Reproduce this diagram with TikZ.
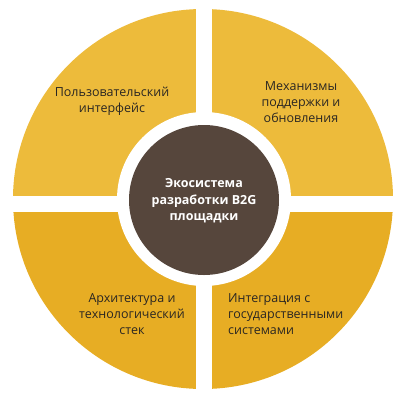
\documentclass[tikz,border=0pt]{standalone}
\usepackage{fontspec}
\setmainfont{Open Sans}
\definecolor{qtop}{HTML}{EDBB3B}
\definecolor{qbot}{HTML}{E7AD24}
\definecolor{hubc}{HTML}{56463C}
\definecolor{txtc}{HTML}{2A2622}
\begin{document}
\begin{tikzpicture}[x=1pt,y=-1pt,
  lbl/.style={font=\fontsize{12.5}{16}\selectfont, text=txtc, inner sep=0pt},
  hubtext/.style={font=\fontsize{12.5}{16.5}\selectfont\bfseries, text=white, align=center, inner sep=0pt},
  hubdisk/.style={circle, fill=hubc, minimum size=150pt, inner sep=0pt}]
\useasboundingbox (0,0) rectangle (409,400);
\begin{scope}
  \clip (203,199) circle (190pt);
  \fill[qtop] (0,0) rectangle (409,204);
  \fill[qbot] (0,204) rectangle (409,400);
\end{scope}
\fill[white] (196,0) rectangle (211.5,400);
\fill[white] (0,196) rectangle (409,211.5);
\fill[white] (204,199) circle (87pt);
\node[hubdisk] (hub) at (204,200) {};
\node[hubtext] (hubt) at (204,201) {Экосистема\\разработки B2G\\площадки};
\node[lbl, align=center] (ui) at (112,101) {Пользовательский\\интерфейс};
\node[lbl, align=center] (sup) at (301,102) {Механизмы\\поддержки и\\обновления};
\node[lbl, align=center] (arch) at (132,314) {Архитектура и\\технологический\\стек};
\node[lbl, align=left, anchor=west] (integ) at (228,314) {Интеграция с\\государственными\\системами};
\end{tikzpicture}
\end{document}
